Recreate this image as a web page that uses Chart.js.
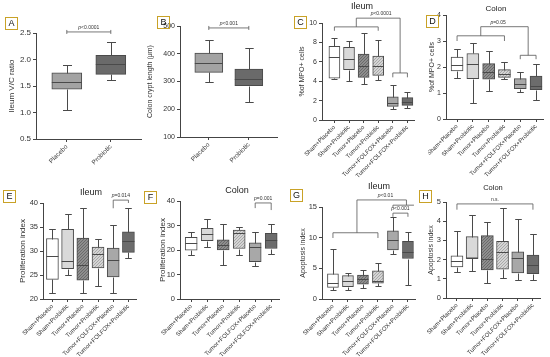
<!DOCTYPE html>
<html>
<head>
<meta charset="utf-8">
<script src="https://cdn.jsdelivr.net/npm/chart.js@4.4.1/dist/chart.umd.min.js"></script>
<style>
  body { margin: 0; width: 550px; height: 357px; background: #fff; position: relative; overflow: hidden; font-family: "Liberation Sans", Arial, sans-serif; }
  canvas { position: absolute; }
  .tag { position: absolute; width: 11px; height: 11px; border: 1.3px solid #c9a227; font-size: 9px; line-height: 11px; text-align: center; color: #111; box-sizing: content-box; }
  .ttl { position: absolute; color: #222; transform: translateX(-50%); white-space: nowrap; }
</style>
</head>
<body>
<script>
// categories
const groupsAB = ['Placebo', 'Probiotic'];
const groups6 = ['Sham+Placebo', 'Sham+Probiotic', 'Tumor+Placebo', 'Tumor+Probiotic', 'Tumor+FOLFOX+Placebo', 'Tumor+FOLFOX+Probiotic'];

// box values per group: [min, q1, median, q3, max]
const ileumVC = [[1.05, 1.44, 1.58, 1.75, 1.89], [1.62, 1.72, 1.92, 2.08, 2.33]];
const cryptLength = [[298, 333, 365, 402, 448], [225, 285, 310, 345, 420]];
const mpoIleum = [[4.2, 4.3, 6.5, 7.6, 8.5], [4.0, 5.2, 6.3, 7.5, 8.1], [3.7, 4.4, 5.6, 6.8, 9.0], [4.1, 4.6, 5.6, 6.6, 8.2], [1.1, 1.4, 1.8, 2.4, 3.6], [1.2, 1.5, 1.9, 2.3, 2.9]];
const mpoColon = [[1.58, 1.85, 2.08, 2.38, 2.7], [0.62, 1.55, 2.12, 2.52, 2.93], [1.07, 1.53, 1.8, 2.13, 2.6], [1.55, 1.6, 1.73, 1.9, 2.2], [1.03, 1.17, 1.33, 1.55, 1.8], [0.75, 1.13, 1.27, 1.65, 2.12]];
const prolIleum = [[21.2, 24.1, 28.9, 32.6, 34.6], [25.1, 26.3, 27.9, 34.5, 37.7], [21.2, 23.9, 27.1, 32.7, 38.9], [22.8, 26.5, 29.3, 30.8, 32.5], [21.2, 24.6, 28.2, 30.6, 35.5], [28.6, 29.7, 32.1, 34.0, 38.9]];
const prolColon = [[18.1, 19.9, 22.7, 25.2, 27.5], [21.1, 23.8, 26.4, 28.8, 32.5], [13.8, 20.0, 22.0, 24.2, 30.7], [18.0, 20.6, 26.8, 28.1, 29.5], [13.3, 15.2, 21.1, 22.9, 27.5], [18.4, 20.6, 24.0, 26.8, 30.5]];
const apoIleum = [[1.5, 1.9, 2.6, 4.1, 8.1], [1.4, 2.0, 2.9, 3.8, 4.2], [1.8, 2.4, 3.2, 3.9, 4.7], [2.2, 2.6, 3.0, 4.6, 5.9], [7.4, 8.0, 9.6, 11.1, 13.3], [2.3, 6.6, 7.7, 9.4, 11.0]];
const apoColon = [[1.38, 1.62, 1.93, 2.2, 3.48], [1.42, 2.07, 2.1, 3.2, 4.3], [0.8, 1.46, 2.05, 3.25, 3.98], [1.02, 1.5, 2.4, 2.95, 4.7], [0.95, 1.3, 2.1, 2.4, 4.12], [0.95, 1.27, 1.7, 2.23, 3.32]];

function dots(base, dot) {
  const c = document.createElement('canvas');
  c.width = 3; c.height = 3;
  const g = c.getContext('2d');
  g.fillStyle = base; g.fillRect(0, 0, 3, 3);
  g.fillStyle = dot; g.fillRect(0, 0, 1, 1); g.fillRect(2, 1, 1, 1); g.fillRect(1, 2, 1, 1);
  return g.createPattern(c, 'repeat');
}
const fillsAB = ['#a3a3a3', '#6a6a6a'];
const fills6 = ['#ffffff', '#d9d9d9', dots('#8e8e8e', '#6a6a6a'), dots('#d4d4d4', '#a8a8a8'), '#a8a8a8', '#6c6c6c'];
const lineCol = '#4a4a4a';

function boxPlot(p) {
  return {
    id: 'boxPlot',
    afterDatasetsDraw(chart) {
      const ctx = chart.ctx, xs = chart.scales.x, ys = chart.scales.y;
      const meta = chart.getDatasetMeta(0);
      ctx.save();
      ctx.strokeStyle = lineCol;
      ctx.lineWidth = 1;
      meta.data.forEach((el, i) => {
        const b = p.boxes[i];
        const x = Math.round(el.x) + 0.5, half = el.width / 2, cap = half * p.cap;
        const py = v => Math.round(ys.getPixelForValue(v)) + 0.5;
        ctx.beginPath();
        ctx.moveTo(x, py(b[3])); ctx.lineTo(x, py(b[4]));
        ctx.moveTo(x - cap, py(b[4])); ctx.lineTo(x + cap, py(b[4]));
        ctx.moveTo(x, py(b[1])); ctx.lineTo(x, py(b[0]));
        ctx.moveTo(x - cap, py(b[0])); ctx.lineTo(x + cap, py(b[0]));
        ctx.moveTo(el.x - half, py(b[2])); ctx.lineTo(el.x + half, py(b[2]));
        ctx.stroke();
      });
      // significance brackets
      ctx.strokeStyle = '#555';
      ctx.fillStyle = '#333';
      ctx.lineWidth = 0.8;
      (p.brackets || []).forEach(br => {
        const x1 = xs.getPixelForValue(br.a), x2 = xs.getPixelForValue(br.b);
        const y = ys.getPixelForValue(br.y);
        ctx.beginPath();
        ctx.moveTo(x1, y); ctx.lineTo(x2, y);
        if (br.cap) {
          ctx.moveTo(x1, y - 2); ctx.lineTo(x1, y + 2);
          ctx.moveTo(x2, y - 2); ctx.lineTo(x2, y + 2);
        }
        if (br.ya !== undefined) { ctx.moveTo(x1, y); ctx.lineTo(x1, ys.getPixelForValue(br.ya)); }
        if (br.yb !== undefined) { ctx.moveTo(x2, y); ctx.lineTo(x2, ys.getPixelForValue(br.yb)); }
        ctx.stroke();
        if (br.text) {
          const cx = br.tx !== undefined ? xs.getPixelForValue(br.tx) : (x1 + x2) / 2;
          const ty = y - 2;
          ctx.textBaseline = 'bottom';
          const fs = p.pfs || 5;
          if (br.text[0] === 'p') {
            ctx.font = 'italic ' + fs + 'px "Liberation Sans", Arial';
            const w1 = ctx.measureText('p').width;
            ctx.font = fs + 'px "Liberation Sans", Arial';
            const rest = br.text.slice(1);
            const w2 = ctx.measureText(rest).width;
            const sx = cx - (w1 + w2) / 2;
            ctx.textAlign = 'left';
            ctx.font = 'italic ' + fs + 'px "Liberation Sans", Arial';
            ctx.fillText('p', sx, ty);
            ctx.font = fs + 'px "Liberation Sans", Arial';
            ctx.fillText(rest, sx + w1, ty);
          } else {
            ctx.font = fs + 'px "Liberation Sans", Arial';
            ctx.textAlign = 'center';
            ctx.fillText(br.text, cx, ty);
          }
        }
      });
      ctx.restore();
    }
  };
}

function makePanel(p) {
  const top = p.row === 0 ? 0 : 178;
  const h = p.row === 0 ? 178 : 179;
  const left = Math.round(p.titleX - p.tfs * 0.6);
  const R = p.L + (p.xmax - p.xmin) * p.gap;
  const w = Math.ceil(R - left + 6);
  const cv = document.createElement('canvas');
  cv.width = w; cv.height = h;
  cv.style.left = left + 'px'; cv.style.top = top + 'px';
  cv.style.width = w + 'px'; cv.style.height = h + 'px';
  document.body.appendChild(cv);

  new Chart(cv, {
    type: 'bar',
    data: {
      datasets: [{
        data: p.boxes.map((b, i) => ({ x: i, y: [b[1], b[3]] })),
        backgroundColor: p.fills,
        borderColor: lineCol,
        borderWidth: 1,
        borderSkipped: false,
        barThickness: p.bw
      }]
    },
    options: {
      responsive: false,
      animation: false,
      devicePixelRatio: 1,
      layout: { padding: { left: 0, top: p.T - top, right: w - (R - left), bottom: 0 } },
      plugins: { legend: { display: false }, tooltip: { enabled: false } },
      scales: {
        x: {
          type: 'linear',
          min: p.xmin,
          max: p.xmax,
          offset: false,
          afterBuildTicks: s => { s.ticks = p.labels.map((l, i) => ({ value: i })); },
          afterFit: s => { s.height = h - (p.B - top); s.paddingLeft = 0; s.paddingRight = 0; },
          ticks: {
            callback: v => p.labels[Math.round(v)],
            minRotation: 45, maxRotation: 45, autoSkip: false,
            font: { size: p.xfs, family: '"Liberation Sans", Arial' },
            color: '#333', padding: 1
          },
          grid: { offset: false, drawOnChartArea: false, tickLength: 3, color: '#444' },
          border: { color: '#444', width: 1 }
        },
        y: {
          min: p.ymin,
          max: p.ymax,
          afterFit: s => { s.width = p.L - left; },
          ticks: {
            stepSize: p.step,
            callback: v => v.toFixed(p.dec || 0),
            font: { size: p.yfs, family: '"Liberation Sans", Arial' },
            color: '#333', padding: 2
          },
          grid: { drawOnChartArea: false, tickLength: 3, color: '#444' },
          border: { color: '#444', width: 1 },
          title: {
            display: true, text: p.ytitle, padding: 0, color: '#333',
            font: { size: p.tfs, family: '"Liberation Sans", Arial' }
          }
        }
      }
    },
    plugins: [boxPlot(p)]
  });

  const tag = document.createElement('div');
  tag.className = 'tag';
  tag.textContent = p.tag;
  tag.style.left = (p.tagX - 7) + 'px';
  tag.style.top = (p.tagY - 7) + 'px';
  document.body.appendChild(tag);

  if (p.title) {
    const t = document.createElement('div');
    t.className = 'ttl';
    t.textContent = p.title;
    t.style.fontSize = p.titleSize + 'px';
    t.style.left = p.titlePos[0] + 'px';
    t.style.top = (p.titlePos[1] - p.titleSize * 0.6) + 'px';
    document.body.appendChild(t);
  }
}

makePanel({ tag: 'A', tagX: 12, tagY: 24, row: 0, labels: groupsAB, boxes: ileumVC, fills: fillsAB,
  L: 36, T: 33, B: 139, xmin: -0.7, xmax: 1.7, gap: 44, bw: 30, cap: 0.3,
  ymin: 0.5, ymax: 2.5, step: 0.5, dec: 1, ytitle: 'Ileum V/C ratio', titleX: 12, tfs: 8, yfs: 8, xfs: 6.5,
  brackets: [{ a: 0, b: 1, y: 2.52, cap: true, text: 'p<0.0001' }] });

makePanel({ tag: 'B', tagX: 164, tagY: 23, row: 0, labels: groupsAB, boxes: cryptLength, fills: fillsAB,
  L: 180, T: 26, B: 137, xmin: -0.72, xmax: 1.72, gap: 40, bw: 28, cap: 0.3,
  ymin: 100, ymax: 500, step: 100, ytitle: 'Colon crypt length (μm)', titleX: 150, tfs: 7, yfs: 7, xfs: 6.5,
  brackets: [{ a: 0, b: 1, y: 493, cap: true, text: 'p<0.001' }] });

makePanel({ tag: 'C', tagX: 301, tagY: 23, row: 0, labels: groups6, boxes: mpoIleum, fills: fills6,
  L: 322, T: 23, B: 120, xmin: -0.85, xmax: 5.5, gap: 14.6, bw: 11, cap: 0.55,
  ymin: 0, ymax: 10, step: 2, ytitle: '%of MPO+ cells', titleX: 302, tfs: 7, yfs: 7, xfs: 6,
  title: 'Ileum', titlePos: [362, 6], titleSize: 9,
  brackets: [
    { a: 0, b: 3, y: 9.6, ya: 9.2, yb: 9.2 },
    { a: 4, b: 5, y: 4.85, ya: 4.4, yb: 4.4 },
    { a: 1.5, b: 4.5, y: 10.5, ya: 9.6, yb: 4.85, text: 'p<0.0001', tx: 3.2 }
  ] });

makePanel({ tag: 'D', tagX: 433, tagY: 22, row: 0, labels: groups6, boxes: mpoColon, fills: fills6,
  L: 446, T: 15, B: 119, xmin: -0.7, xmax: 5.5, gap: 15.8, bw: 12, cap: 0.55,
  ymin: 0, ymax: 4, step: 1, ytitle: '%of MPO+ cells', titleX: 432, tfs: 7, yfs: 7, xfs: 6,
  title: 'Colon', titlePos: [496, 9], titleSize: 8,
  brackets: [
    { a: 0, b: 3, y: 3.2, ya: 3.0, yb: 3.0 },
    { a: 4, b: 5, y: 2.45, ya: 2.3, yb: 2.3 },
    { a: 1.5, b: 4.5, y: 3.55, ya: 3.2, yb: 2.45, text: 'p=0.05', tx: 2.6 }
  ] });

makePanel({ tag: 'E', tagX: 10, tagY: 197, row: 1, labels: groups6, boxes: prolIleum, fills: fills6,
  L: 43, T: 203, B: 299, xmin: -0.62, xmax: 5.5, gap: 15.2, bw: 12, cap: 0.55,
  ymin: 20, ymax: 40, step: 5, ytitle: 'Proliferation index', titleX: 23, tfs: 8, yfs: 7.5, xfs: 6,
  title: 'Ileum', titlePos: [91, 192], titleSize: 9,
  brackets: [{ a: 4, b: 5, y: 40.6, ya: 38.9, yb: 40.0, text: 'p=0.014' }] });

makePanel({ tag: 'F', tagX: 151, tagY: 198, row: 1, labels: groups6, boxes: prolColon, fills: fills6,
  L: 180, T: 201, B: 299, xmin: -0.7, xmax: 5.5, gap: 16, bw: 12, cap: 0.55,
  ymin: 0, ymax: 40, step: 10, ytitle: 'Proliferation index', titleX: 163, tfs: 8, yfs: 7.5, xfs: 6,
  title: 'Colon', titlePos: [237, 190], titleSize: 9,
  brackets: [{ a: 4, b: 5, y: 39.2, ya: 37.1, yb: 36.3, text: 'p=0.001' }] });

makePanel({ tag: 'G', tagX: 297, tagY: 196, row: 1, labels: groups6, boxes: apoIleum, fills: fills6,
  L: 322, T: 207, B: 299, xmin: -0.73, xmax: 5.5, gap: 15, bw: 11, cap: 0.55,
  ymin: 0, ymax: 15, step: 5, ytitle: 'Apoptosis index', titleX: 303, tfs: 7, yfs: 7.5, xfs: 6,
  title: 'Ileum', titlePos: [379, 186], titleSize: 9,
  brackets: [
    { a: 0, b: 3, y: 10.8, ya: 9.95, yb: 9.95 },
    { a: 1.6, b: 4.9, y: 16.15, ya: 10.8, yb: 15.3, text: 'p<0.01', tx: 3.5 },
    { a: 4, b: 5.4, y: 15.3, ya: 14.9 },
    { a: 4, b: 5, y: 14.0, ya: 13.4, yb: 13.4, text: 'p<0.001' }
  ] });

makePanel({ tag: 'H', tagX: 426, tagY: 197, row: 1, labels: groups6, boxes: apoColon, fills: fills6,
  L: 446, T: 202, B: 298, xmin: -0.72, xmax: 5.5, gap: 15.2, bw: 12, cap: 0.55,
  ymin: 0, ymax: 5, step: 1, ytitle: 'Apoptosis index', titleX: 431, tfs: 7, yfs: 7.5, xfs: 6,
  title: 'Colon', titlePos: [493, 187], titleSize: 7.5,
  brackets: [{ a: 0, b: 5, y: 4.9, ya: 4.6, yb: 4.6, text: 'n.s.' }] });
</script>
</body>
</html>
